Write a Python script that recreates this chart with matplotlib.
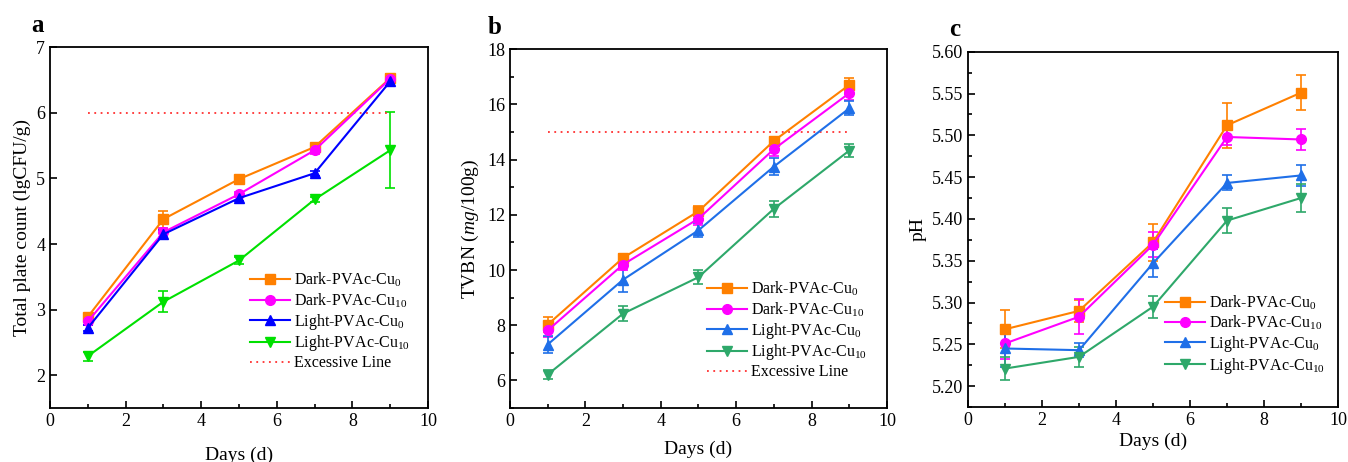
import matplotlib
matplotlib.use("Agg")
import matplotlib.pyplot as plt
from matplotlib.ticker import MultipleLocator, FormatStrFormatter
from matplotlib.lines import Line2D

plt.rcParams['font.family'] = ['Liberation Serif', 'DejaVu Serif']
plt.rcParams['mathtext.fontset'] = 'custom'
plt.rcParams['mathtext.rm'] = 'Liberation Serif'
plt.rcParams['mathtext.it'] = 'Liberation Serif:italic'

days = [1, 3, 5, 7, 9]
labels = [r"Dark-PVAc-Cu$_{0}$", r"Dark-PVAc-Cu$_{10}$",
          r"Light-PVAc-Cu$_{0}$", r"Light-PVAc-Cu$_{10}$"]
excess_label = "Excessive Line"

# Panel a: total plate count
tpc_dark0 = [2.89, 4.38, 4.99, 5.48, 6.53]
tpc_dark0_err = [0.05, 0.13, 0.05, 0.04, 0.07]
tpc_dark10 = [2.82, 4.18, 4.76, 5.43, 6.52]
tpc_dark10_err = [0.05, 0.07, 0.04, 0.05, 0.05]
tpc_light0 = [2.72, 4.15, 4.70, 5.08, 6.48]
tpc_light0_err = [0.04, 0.07, 0.04, 0.04, 0.07]
tpc_light10 = [2.29, 3.12, 3.75, 4.68, 5.43]
tpc_light10_err = [0.07, 0.16, 0.05, 0.04, 0.58]
tpc_limit = 6

# Panel b: TVBN
tvbn_dark0 = [8.02, 10.44, 12.13, 14.68, 16.71]
tvbn_dark0_err = [0.28, 0.15, 0.18, 0.15, 0.25]
tvbn_dark10 = [7.81, 10.20, 11.86, 14.38, 16.41]
tvbn_dark10_err = [0.25, 0.20, 0.22, 0.25, 0.25]
tvbn_light0 = [7.30, 9.65, 11.44, 13.75, 15.86]
tvbn_light0_err = [0.30, 0.45, 0.25, 0.32, 0.25]
tvbn_light10 = [6.21, 8.42, 9.74, 12.22, 14.33]
tvbn_light10_err = [0.15, 0.28, 0.25, 0.28, 0.25]
tvbn_limit = 15

# Panel c: pH
ph_dark0 = [5.268, 5.290, 5.372, 5.512, 5.551]
ph_dark0_err = [0.023, 0.013, 0.022, 0.027, 0.021]
ph_dark10 = [5.251, 5.283, 5.369, 5.498, 5.495]
ph_dark10_err = [0.018, 0.021, 0.015, 0.010, 0.013]
ph_light0 = [5.245, 5.243, 5.347, 5.443, 5.452]
ph_light0_err = [0.022, 0.008, 0.017, 0.009, 0.013]
ph_light10 = [5.221, 5.235, 5.295, 5.398, 5.425]
ph_light10_err = [0.014, 0.012, 0.013, 0.015, 0.017]

markers = ['s', 'o', '^', 'v']
colors_a = ['#FF8000', '#FF00FF', '#0000FF', '#00E000']
colors_bc = ['#FF8000', '#FF00FF', '#1F6FE8', '#2EA86A']
limit_color = '#FF3030'
limit_style = (0, (1, 2.5))

fig = plt.figure(figsize=(13.48, 4.62), dpi=100)
axa = fig.add_axes([0.0371, 0.1169, 0.2804, 0.7807])
axb = fig.add_axes([0.3783, 0.1169, 0.2797, 0.7764])
axc = fig.add_axes([0.7181, 0.1190, 0.2745, 0.7691])


def draw(ax, series, errs, colors, limit, anchor, xpad):
    handles = []
    for y, e, c, m, lab in zip(series, errs, colors, markers, labels):
        ax.errorbar(days, y, yerr=e, color=c, marker=m, markersize=7,
                    linewidth=1.5, capsize=3.5, capthick=1.2, elinewidth=1.2)
        handles.append(Line2D([], [], color=c, marker=m, markersize=7,
                              linewidth=1.5, label=lab))
    if limit is not None:
        ax.plot([days[0], days[-1]], [limit, limit], linestyle=limit_style,
                color=limit_color, linewidth=1.3)
        handles.append(Line2D([], [], color=limit_color, linestyle=limit_style,
                              linewidth=1.3, label=excess_label))
    ax.legend(handles=handles, loc='upper left', bbox_to_anchor=anchor,
              frameon=False, fontsize=11.5, handlelength=2.5,
              labelspacing=0.12, handletextpad=0.25, borderpad=0,
              borderaxespad=0)
    ax.set_xlim(0, 10)
    ax.xaxis.set_major_locator(MultipleLocator(2))
    ax.xaxis.set_minor_locator(MultipleLocator(1))
    ax.tick_params(which='both', direction='in', top=False, right=False,
                   labelsize=13, width=1.2)
    ax.tick_params(which='major', length=5)
    ax.tick_params(which='minor', length=3)
    for s in ax.spines.values():
        s.set_linewidth(1.3)
    ax.set_xlabel("Days (d)", fontsize=14, labelpad=xpad)


draw(axa, [tpc_dark0, tpc_dark10, tpc_light0, tpc_light10],
     [tpc_dark0_err, tpc_dark10_err, tpc_light0_err, tpc_light10_err],
     colors_a, tpc_limit, (0.529, 0.38), 12)
axa.set_ylim(1.5, 7)
axa.yaxis.set_major_locator(MultipleLocator(1))
axa.set_ylabel("Total plate count (lgCFU/g)", fontsize=14, labelpad=4)

draw(axb, [tvbn_dark0, tvbn_dark10, tvbn_light0, tvbn_light10],
     [tvbn_dark0_err, tvbn_dark10_err, tvbn_light0_err, tvbn_light10_err],
     colors_bc, tvbn_limit, (0.523, 0.357), 7.5)
axb.set_ylim(5, 18)
axb.yaxis.set_major_locator(MultipleLocator(2))
axb.yaxis.set_minor_locator(MultipleLocator(1))
axb.set_ylabel(r"TVBN ($mg$/100g)", fontsize=14, labelpad=4)

draw(axc, [ph_dark0, ph_dark10, ph_light0, ph_light10],
     [ph_dark0_err, ph_dark10_err, ph_light0_err, ph_light10_err],
     colors_bc, None, (0.532, 0.32), 3)
axc.set_ylim(5.175, 5.60)
axc.yaxis.set_major_locator(MultipleLocator(0.05))
axc.yaxis.set_minor_locator(MultipleLocator(0.025))
axc.yaxis.set_major_formatter(FormatStrFormatter('%.2f'))
axc.set_ylabel("pH", fontsize=14, labelpad=4)

fig.text(37 / 1348, 1 - 26 / 462, "a", fontsize=18, fontweight='bold',
         ha='center', va='center')
fig.text(495 / 1348, 1 - 27 / 462, "b", fontsize=18, fontweight='bold',
         ha='center', va='center')
fig.text(955 / 1348, 1 - 30 / 462, "c", fontsize=18, fontweight='bold',
         ha='center', va='center')

fig.savefig("out.png", dpi=100)
